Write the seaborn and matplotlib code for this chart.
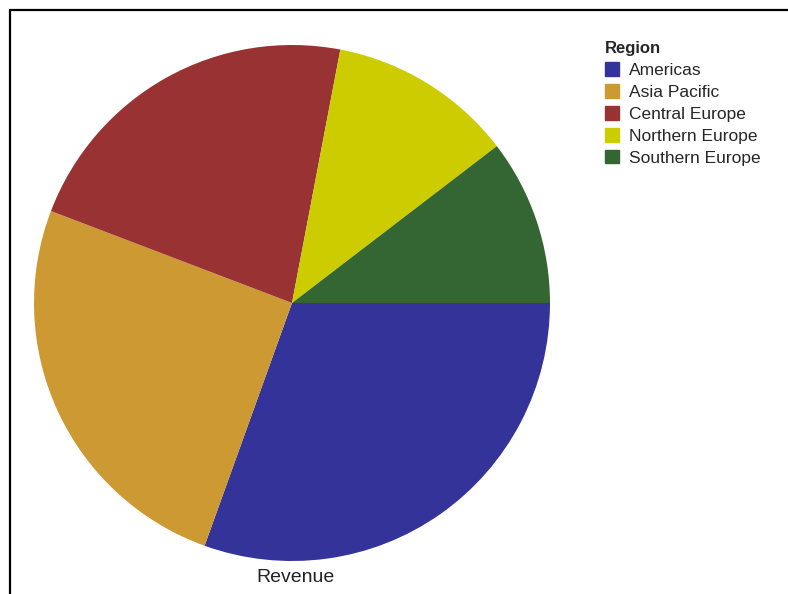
import matplotlib.pyplot as plt
import matplotlib.patches as mpatches
from matplotlib.lines import Line2D
import seaborn as sns

# chart data
regions = ['Americas', 'Asia Pacific', 'Central Europe', 'Northern Europe', 'Southern Europe']
revenue = [30.5, 25.3, 22.2, 11.6, 10.4]
colors = ['#333399', '#CC9933', '#993333', '#CCCC00', '#336633']

sns.set_style('white')
plt.rcParams['font.family'] = ['Liberation Sans', 'DejaVu Sans']

fig = plt.figure(figsize=(7.88, 5.94), dpi=100)

# pie axes: centre (292, 303) px, radius 258 px
ax = fig.add_axes([34 / 788, 33 / 594, 516 / 788, 516 / 594])
ax.pie(revenue, colors=colors, startangle=0, counterclock=False, radius=1,
       wedgeprops={'linewidth': 0})
ax.set_xlim(-1, 1)
ax.set_ylim(-1, 1)
ax.axis('off')

fig.text(296 / 788, 1 - 578 / 594, 'Revenue', ha='center', va='center',
         fontsize=14, color='#222222')

# legend
handles = [mpatches.Patch(color=c, label=r) for c, r in zip(colors, regions)]
leg = fig.legend(handles=handles, title='Region', loc='upper left',
                 bbox_to_anchor=(600 / 788, 1 - 36 / 594), frameon=False,
                 fontsize=12.5, title_fontproperties={'weight': 'bold', 'size': 12},
                 alignment='left', borderpad=0.3, borderaxespad=0,
                 handlelength=0.8, handleheight=0.8, handletextpad=0.57,
                 labelspacing=0.36)

# partial frame on top and left
fig.add_artist(Line2D([9.5 / 788, 1], [1 - 9.5 / 594, 1 - 9.5 / 594],
                      color='black', linewidth=1.6, transform=fig.transFigure))
fig.add_artist(Line2D([9.5 / 788, 9.5 / 788], [0, 1 - 9.5 / 594],
                      color='black', linewidth=1.6, transform=fig.transFigure))

fig.savefig('out.png', dpi=100)
